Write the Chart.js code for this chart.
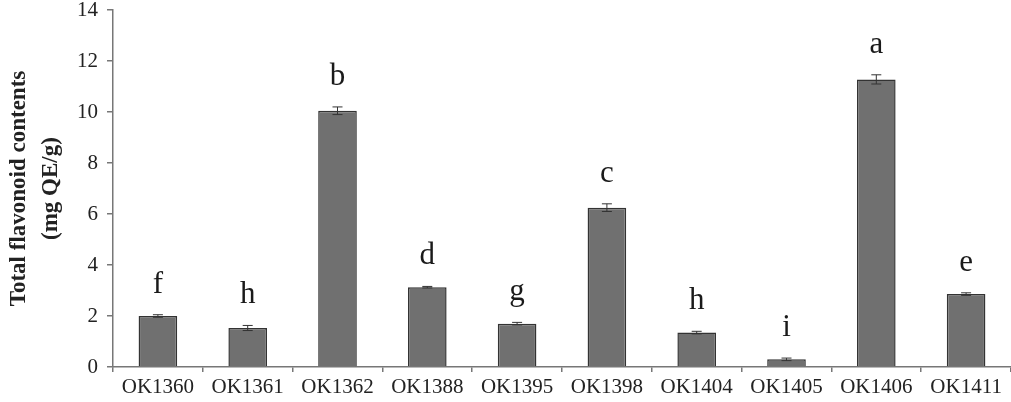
<!DOCTYPE html>
<html>
<head>
<meta charset="utf-8">
<script src="https://cdn.jsdelivr.net/npm/chart.js@4"></script>
<style>
  html, body { margin: 0; padding: 0; background: #fff; }
  .chart-container { position: relative; width: 1011px; height: 402px; }
</style>
</head>
<body>
<div class="chart-container">
  <canvas id="flavonoidChart"></canvas>
</div>
<script>
const categories = ['OK1360', 'OK1361', 'OK1362', 'OK1388', 'OK1395', 'OK1398', 'OK1404', 'OK1405', 'OK1406', 'OK1411'];
const values = [2.0, 1.53, 10.05, 3.13, 1.70, 6.25, 1.35, 0.30, 11.28, 2.86];
const errors = [0.05, 0.10, 0.15, 0.03, 0.05, 0.15, 0.05, 0.05, 0.18, 0.05];
const letters = ['f', 'h', 'b', 'd', 'g', 'c', 'h', 'i', 'a', 'e'];

// error bars + significance letters, drawn through the scales
const errorBarPlugin = {
  id: 'errorBars',
  afterDatasetsDraw(chart) {
    const ctx = chart.ctx;
    const x = chart.scales.x;
    const y = chart.scales.y;
    ctx.save();
    values.forEach((v, i) => {
      const cx = x.getPixelForValue(i);
      const top = y.getPixelForValue(v + errors[i]);
      const bottom = y.getPixelForValue(v - errors[i]);
      ctx.strokeStyle = '#333';
      ctx.lineWidth = 1;
      ctx.beginPath();
      ctx.moveTo(cx, top);
      ctx.lineTo(cx, bottom);
      ctx.moveTo(cx - 5, top);
      ctx.lineTo(cx + 5, top);
      ctx.moveTo(cx - 5, bottom);
      ctx.lineTo(cx + 5, bottom);
      ctx.stroke();

      ctx.fillStyle = '#1a1a1a';
      ctx.font = '31px "Liberation Serif", "Times New Roman", serif';
      ctx.textAlign = 'center';
      ctx.textBaseline = 'alphabetic';
      ctx.fillText(letters[i], cx, top - 22);
    });
    ctx.restore();
  }
};

new Chart(document.getElementById('flavonoidChart').getContext('2d'), {
  type: 'bar',
  data: {
    labels: categories,
    datasets: [{
      data: values,
      backgroundColor: '#707070',
      borderColor: '#333',
      borderWidth: 1.5,
      categoryPercentage: 1,
      barPercentage: 0.43
    }]
  },
  options: {
    responsive: true,
    maintainAspectRatio: false,
    animation: false,
    layout: { padding: { top: 0, right: 0, bottom: 0, left: 0 } },
    plugins: {
      legend: { display: false },
      tooltip: { enabled: false }
    },
    scales: {
      x: {
        offset: true,
        afterFit(scale) { scale.height = 35; },
        grid: {
          offset: true,
          drawOnChartArea: false,
          drawTicks: true,
          tickLength: 5,
          color: '#777',
          lineWidth: 1.5
        },
        border: { color: '#777', width: 1.5 },
        ticks: {
          color: '#222',
          padding: 3,
          maxRotation: 0,
          font: { family: '"Liberation Serif", "Times New Roman", serif', size: 21 }
        }
      },
      y: {
        min: 0,
        max: 14,
        afterFit(scale) { scale.width = 113; },
        grid: {
          drawOnChartArea: false,
          drawTicks: true,
          tickLength: 6,
          color: '#777',
          lineWidth: 1.5
        },
        border: { color: '#777', width: 1.5 },
        ticks: {
          stepSize: 2,
          color: '#222',
          padding: 9,
          font: { family: '"Liberation Serif", "Times New Roman", serif', size: 21, lineHeight: 0.1 }
        },
        title: {
          display: true,
          text: ['Total flavonoid contents', '(mg QE/g)'],
          color: '#222',
          padding: { top: 4, bottom: 0 },
          font: { family: '"Liberation Serif", "Times New Roman", serif', size: 23, weight: 'bold', lineHeight: 1.35 }
        }
      }
    }
  },
  plugins: [errorBarPlugin]
});
</script>
</body>
</html>
